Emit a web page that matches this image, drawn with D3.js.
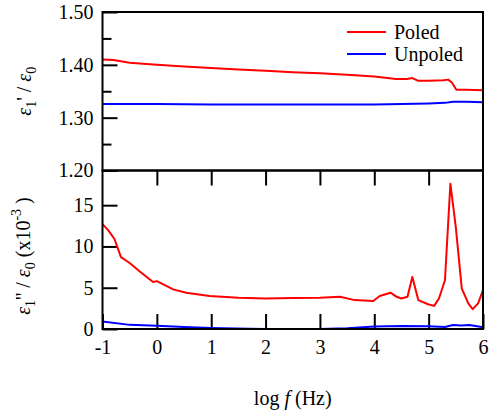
<!DOCTYPE html>
<html>
<head>
<meta charset="utf-8">
<script src="https://cdn.jsdelivr.net/npm/d3@7"></script>
<style>
  html, body { margin: 0; padding: 0; background: #fff; }
  svg { display: block; }
</style>
</head>
<body>
<svg id="chart" width="489" height="412" font-family="Liberation Serif, Tinos, Times New Roman, DejaVu Serif, Noto Serif, serif"></svg>
<script>
// log10 frequency (Hz) and permittivity data
const poledRealF   = [-1, -0.8, -0.5, 0, 0.5, 1, 1.5, 2, 2.5, 3, 3.5, 4, 4.4, 4.6, 4.7, 4.8, 5.0, 5.27, 5.36, 5.43, 5.51, 5.7, 6];
const poledReal    = [1.410, 1.409, 1.404, 1.400, 1.397, 1.394, 1.391, 1.389, 1.386, 1.384, 1.381, 1.378, 1.373, 1.373, 1.375, 1.370, 1.370, 1.371, 1.372, 1.366, 1.353, 1.353, 1.352];

const unpoledRealF = [-1, 0, 1, 2, 3, 4, 4.5, 5, 5.3, 5.45, 5.7, 6];
const unpoledReal  = [1.326, 1.326, 1.325, 1.325, 1.325, 1.325, 1.326, 1.327, 1.328, 1.330, 1.330, 1.329];

const poledImagF   = [-1, -0.9, -0.78, -0.66, -0.5, -0.32, -0.07, 0, 0.3, 0.54, 0.97, 1.5, 2, 2.5, 3, 3.37, 3.64, 3.98, 4.1, 4.3, 4.41, 4.5, 4.61, 4.7, 4.81, 4.99, 5.1, 5.19, 5.3, 5.4, 5.5, 5.61, 5.73, 5.81, 5.91, 6];
const poledImag    = [12.7, 12.0, 10.9, 8.7, 8.0, 7.0, 5.7, 5.8, 4.8, 4.4, 4.0, 3.8, 3.7, 3.75, 3.8, 3.9, 3.5, 3.4, 4.0, 4.4, 3.9, 3.7, 3.9, 6.3, 3.5, 3.0, 2.8, 3.7, 5.9, 17.6, 12.3, 4.9, 3.1, 2.4, 3.1, 4.7];

const unpoledImagF = [-1, -0.5, 0, 0.5, 1, 1.7, 2, 3, 3.5, 4, 4.5, 5, 5.3, 5.45, 5.6, 5.75, 6];
const unpoledImag  = [0.9, 0.5, 0.4, 0.25, 0.12, 0.02, 0.0, 0.0, 0.08, 0.3, 0.36, 0.32, 0.24, 0.48, 0.42, 0.48, 0.2];

const xTicks       = [-1, 0, 1, 2, 3, 4, 5, 6];
const topTicks     = [1.20, 1.30, 1.40, 1.50];
const topMinor     = [1.25, 1.35, 1.45];
const bottomTicks  = [0, 5, 10, 15];
const seriesNames  = ["Poled", "Unpoled"];
const seriesColors = ["#ff0000", "#0000ff"];

const svg = d3.select("#chart");
const plotLeft = 102.5, plotRight = 483, plotTop = 12, plotMid = 170.5, plotBottom = 329;

const x = d3.scaleLinear().domain([-1, 6]).range([plotLeft, plotRight]);
const yTop = d3.scaleLinear().domain([1.2, 1.5]).range([plotMid, plotTop]);
const yBot = d3.scaleLinear().domain([0, 19.2]).range([plotBottom, plotMid]);

const fontSize = 20;
const serif = "Liberation Serif, Tinos, Times New Roman, DejaVu Serif, Noto Serif, serif";

function styleAxis(g) {
  g.attr("font-family", serif).attr("font-size", fontSize);
  g.select(".domain").remove();
  g.selectAll(".tick line").attr("stroke", "#000").attr("stroke-width", 2);
  g.selectAll(".tick text").attr("fill", "#000");
}

// top panel: left axis (major + minor ticks)
svg.append("g").attr("transform", `translate(${plotLeft},0)`)
  .call(d3.axisLeft(yTop).tickValues(topTicks).tickFormat(d3.format(".2f")).tickSize(-15).tickPadding(9))
  .call(styleAxis);
svg.append("g").attr("transform", `translate(${plotLeft},0)`)
  .call(d3.axisLeft(yTop).tickValues(topMinor).tickFormat("").tickSize(-9))
  .call(styleAxis);
// top panel: inward ticks on its lower edge
svg.append("g").attr("transform", `translate(0,${plotMid})`)
  .call(d3.axisTop(x).tickValues(xTicks.slice(1, -1)).tickFormat("").tickSize(-15))
  .call(styleAxis);

// bottom panel: left axis and bottom axis
svg.append("g").attr("transform", `translate(${plotLeft},0)`)
  .call(d3.axisLeft(yBot).tickValues(bottomTicks).tickSize(-15).tickPadding(9))
  .call(styleAxis);
const xb = svg.append("g").attr("transform", `translate(0,${plotBottom})`)
  .call(d3.axisBottom(x).tickValues(xTicks).tickFormat(d3.format("d")).tickSize(-15).tickPadding(11))
  .call(styleAxis);
xb.selectAll(".tick text").text(d => d < 0 ? "-" + Math.abs(d) : d);

// series lines
function drawLine(fs, vs, yScale, color) {
  const pts = fs.map((f, i) => [f, vs[i]]);
  svg.append("path")
    .datum(pts)
    .attr("fill", "none")
    .attr("stroke", color)
    .attr("stroke-width", 2)
    .attr("stroke-linejoin", "round")
    .attr("d", d3.line().x(d => x(d[0])).y(d => yScale(d[1])));
}
drawLine(poledRealF, poledReal, yTop, seriesColors[0]);
drawLine(unpoledRealF, unpoledReal, yTop, seriesColors[1]);
drawLine(poledImagF, poledImag, yBot, seriesColors[0]);
drawLine(unpoledImagF, unpoledImag, yBot, seriesColors[1]);

// panel frames
const frame = svg.append("g").attr("fill", "none").attr("stroke", "#000").attr("stroke-width", 2);
frame.append("rect").attr("x", plotLeft).attr("y", plotTop).attr("width", plotRight - plotLeft).attr("height", plotMid - plotTop);
frame.append("rect").attr("x", plotLeft).attr("y", plotMid).attr("width", plotRight - plotLeft).attr("height", plotBottom - plotMid);

// legend
const legend = svg.append("g");
seriesNames.forEach((name, i) => {
  const ly = 32 + i * 22;
  legend.append("line").attr("x1", 347).attr("x2", 386).attr("y1", ly).attr("y2", ly)
    .attr("stroke", seriesColors[i]).attr("stroke-width", 2);
  legend.append("text").attr("x", 394).attr("y", ly + 6.5)
    .attr("font-size", fontSize).attr("fill", "#000").text(name);
});

// axis titles
const xt = svg.append("text").attr("x", (plotLeft + plotRight) / 2).attr("y", 405)
  .attr("text-anchor", "middle").attr("font-size", fontSize);
xt.append("tspan").text("log ");
xt.append("tspan").attr("font-style", "italic").text("f");
xt.append("tspan").text(" (Hz)");

const yt1 = svg.append("text")
  .attr("transform", `translate(31,${(plotTop + plotMid) / 2}) rotate(-90)`)
  .attr("text-anchor", "middle").attr("font-size", fontSize);
yt1.append("tspan").attr("font-style", "italic").text("ε");
yt1.append("tspan").attr("dy", 5).attr("font-size", 14).text("1");
yt1.append("tspan").attr("dy", -5).text("' / ");
yt1.append("tspan").attr("font-style", "italic").text("ε");
yt1.append("tspan").attr("dy", 5).attr("font-size", 14).text("0");

const yt2 = svg.append("text")
  .attr("transform", `translate(30,256) rotate(-90)`)
  .attr("text-anchor", "middle").attr("font-size", fontSize);
yt2.append("tspan").attr("font-style", "italic").text("ε");
yt2.append("tspan").attr("dy", 5).attr("font-size", 14).text("1");
yt2.append("tspan").attr("dy", -5).text("'' / ");
yt2.append("tspan").attr("font-style", "italic").text("ε");
yt2.append("tspan").attr("dy", 5).attr("font-size", 14).text("0");
yt2.append("tspan").attr("dy", -5).text(" (x10");
yt2.append("tspan").attr("dy", -9).attr("font-size", 14).text("-3");
yt2.append("tspan").attr("dy", 9).text(" )");

// every label in the serif face
svg.selectAll("text").attr("font-family", serif);
</script>
</body>
</html>
